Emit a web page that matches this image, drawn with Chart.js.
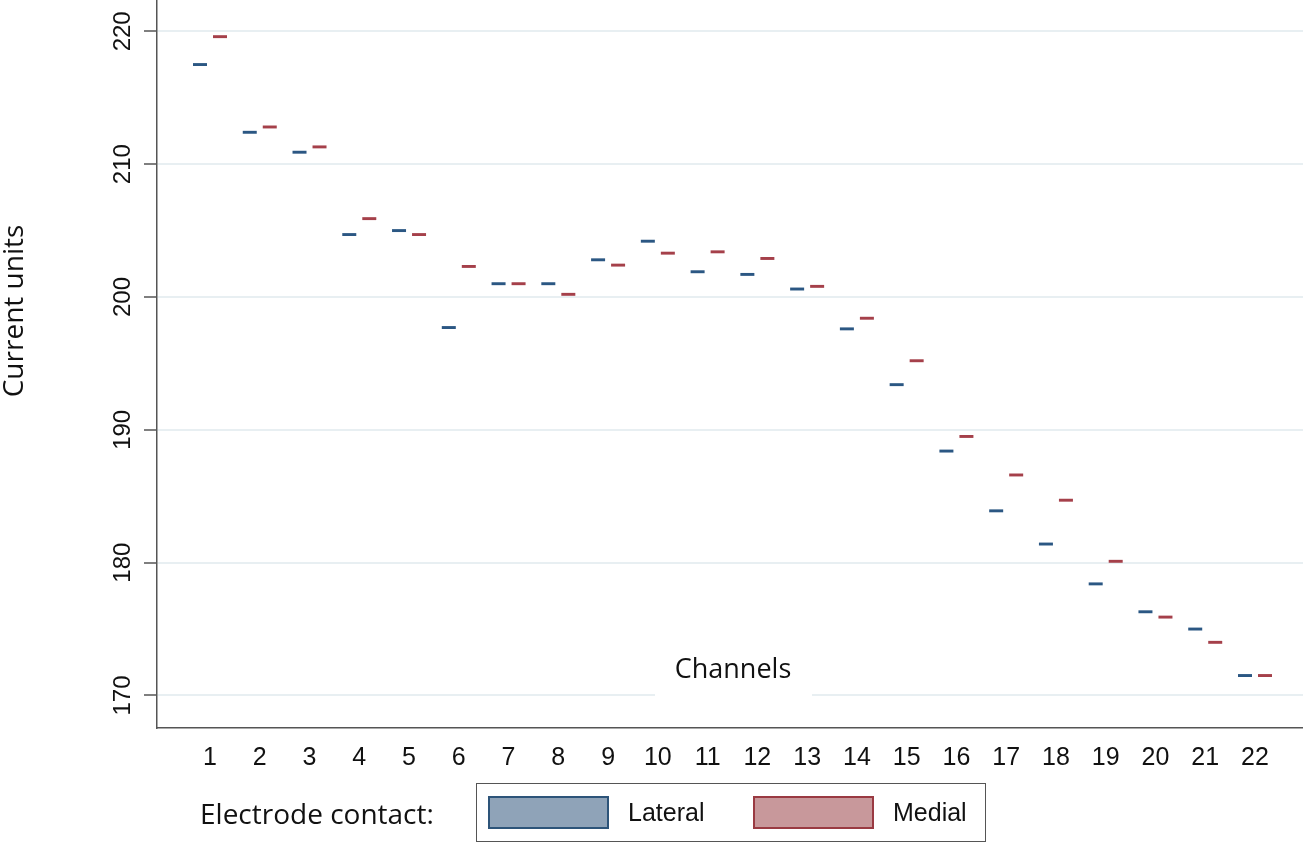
<!DOCTYPE html>
<html>
<head>
<meta charset="utf-8">
<script src="https://cdn.jsdelivr.net/npm/chart.js@4.4.1/dist/chart.umd.min.js"></script>
<style>
  html, body { margin: 0; padding: 0; background: #fff; }
  #wrap { width: 1303px; height: 843px; }
</style>
</head>
<body>
<div id="wrap"><canvas id="chart" width="1303" height="843"></canvas></div>
<script>
const channels = [1, 2, 3, 4, 5, 6, 7, 8, 9, 10, 11, 12, 13, 14, 15, 16, 17, 18, 19, 20, 21, 22];
const lateral = [217.5, 212.4, 210.9, 204.7, 205.0, 197.7, 201.0, 201.0, 202.8, 204.2, 201.9, 201.7, 200.6, 197.6, 193.4, 188.4, 183.9, 181.4, 178.4, 176.3, 175.0, 171.5];
const medial = [219.6, 212.8, 211.3, 205.9, 204.7, 202.3, 201.0, 200.2, 202.4, 203.3, 203.4, 202.9, 200.8, 198.4, 195.2, 189.5, 186.6, 184.7, 180.1, 175.9, 174.0, 171.5];
const yTicks = [170, 180, 190, 200, 210, 220];

const MARK = 0.11; // half thickness of each median dash, in y units
const LAT_LINE = "#2b5783", MED_LINE = "#a5404a";
const LAT_FILL = "#8fa3b8", MED_FILL = "#c8989b";
const LAT_EDGE = "#2d5479", MED_EDGE = "#9a3a42";
const NUM_FONT = '"Liberation Sans", Arial, sans-serif';
const TXT_FONT = '"Open Sans", "Noto Sans", sans-serif';

const dash = (vals) => channels.map((c, i) => ({ x: c, y: [vals[i] - MARK, vals[i] + MARK] }));

/* ── extra text: y tick labels, titles, legend ── */
const decor = {
  id: "decor",
  afterDraw(chart) {
    const ctx = chart.ctx;
    const y = chart.scales.y;
    ctx.save();
    ctx.fillStyle = "#111";
    ctx.font = "24px " + NUM_FONT;
    ctx.textAlign = "center";
    ctx.textBaseline = "alphabetic";
    yTicks.forEach((v) => {
      ctx.save();
      ctx.translate(130, y.getPixelForValue(v));
      ctx.rotate(-Math.PI / 2);
      ctx.fillText(String(v), 0, 0);
      ctx.restore();
    });

    ctx.font = "28px " + TXT_FONT;
    ctx.textBaseline = "middle";
    ctx.save();
    ctx.translate(15, 311);
    ctx.rotate(-Math.PI / 2);
    ctx.fillText("Current units", 0, 0);
    ctx.restore();

    // axis title sits inside the plot on a white patch
    ctx.fillStyle = "#fff";
    ctx.fillRect(655, 646, 157, 58);
    ctx.fillStyle = "#111";
    ctx.font = "27px " + TXT_FONT;
    ctx.fillText("Channels", 733, 670);

    // legend
    ctx.textAlign = "left";
    ctx.font = "28px " + TXT_FONT;
    ctx.fillText("Electrode contact:", 200, 816);
    ctx.strokeStyle = "#555";
    ctx.lineWidth = 1;
    ctx.strokeRect(476.5, 783.5, 509, 58);
    ctx.lineWidth = 2;
    ctx.fillStyle = LAT_FILL;
    ctx.fillRect(489, 797, 119, 31);
    ctx.strokeStyle = LAT_EDGE;
    ctx.strokeRect(489, 797, 119, 31);
    ctx.fillStyle = MED_FILL;
    ctx.fillRect(754, 797, 119, 31);
    ctx.strokeStyle = MED_EDGE;
    ctx.strokeRect(754, 797, 119, 31);
    ctx.fillStyle = "#111";
    ctx.font = "25px " + NUM_FONT;
    ctx.fillText(chart.data.datasets[0].label, 628, 814);
    ctx.fillText(chart.data.datasets[1].label, 893, 814);
    ctx.restore();
  },
};

new Chart(document.getElementById("chart"), {
  type: "bar",
  data: {
    datasets: [
      { label: "Lateral", data: dash(lateral), backgroundColor: LAT_LINE, borderWidth: 0, categoryPercentage: 0.804, barPercentage: 0.7 },
      { label: "Medial", data: dash(medial), backgroundColor: MED_LINE, borderWidth: 0, categoryPercentage: 0.804, barPercentage: 0.7 },
    ],
  },
  options: {
    responsive: false,
    animation: false,
    devicePixelRatio: 1,
    layout: { padding: { left: 0, right: 0, top: 0, bottom: 70 } },
    scales: {
      x: {
        type: "linear",
        offset: false,
        min: -0.065,
        max: 22.965,
        afterBuildTicks: (s) => { s.ticks = channels.map((c) => ({ value: c })); },
        afterFit: (s) => { s.height = 45; },
        grid: { display: false, drawTicks: false },
        border: { display: true, color: "#555", width: 1.5 },
        ticks: { color: "#111", padding: 15, font: { family: NUM_FONT, size: 25 }, maxRotation: 0 },
      },
      y: {
        min: 167.55,
        max: 222.36,
        afterBuildTicks: (s) => { s.ticks = yTicks.map((v) => ({ value: v })); },
        afterFit: (s) => { s.width = 157; },
        grid: { color: "#e8eff2", lineWidth: 2, drawTicks: true, tickLength: 13, tickColor: "#555", tickWidth: 1.5 },
        border: { display: true, color: "#555", width: 1.5 },
        ticks: { display: false },
      },
    },
    plugins: { legend: { display: false }, tooltip: { enabled: false } },
  },
  plugins: [decor],
});
</script>
</body>
</html>
